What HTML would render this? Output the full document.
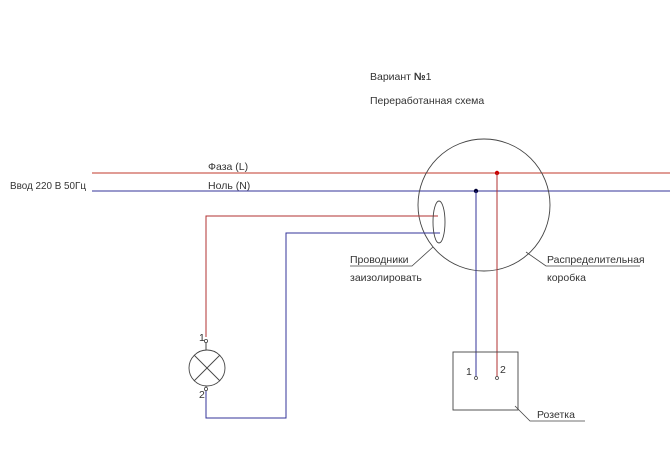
<!DOCTYPE html>
<html><head><meta charset="utf-8"><style>body{margin:0;background:#fff}svg{display:block}text{font-family:"Liberation Sans",sans-serif;font-size:10.5px;fill:#333}</style></head><body>
<svg width="670" height="470" viewBox="0 0 670 470" xmlns="http://www.w3.org/2000/svg">
<rect width="670" height="470" fill="#fff"/>
<text x="370" y="80">Вариант <tspan font-weight="bold">№</tspan>1</text>
<text x="370" y="104">Переработанная схема</text>
<text x="10" y="189" font-size="11" textLength="76" lengthAdjust="spacingAndGlyphs">Ввод 220 В 50Гц</text>
<text x="208" y="170">Фаза (L)</text>
<text x="208" y="189">Ноль (N)</text>
<line x1="92" y1="173" x2="670" y2="173" stroke="#c0392b" stroke-width="1"/>
<line x1="92" y1="191" x2="670" y2="191" stroke="#333399" stroke-width="1"/>
<circle cx="484" cy="205" r="66" fill="none" stroke="#444" stroke-width="0.9"/>
<circle cx="497" cy="173" r="2.2" fill="#c00"/>
<circle cx="476" cy="191" r="2.2" fill="#003"/>
<polyline points="438,216 206,216 206,337" fill="none" stroke="#b03030"/>
<polyline points="440,233 286,233 286,418 206,418 206,391" fill="none" stroke="#333399"/>
<ellipse cx="439" cy="222" rx="6" ry="21" fill="none" stroke="#444" stroke-width="0.9"/>
<line x1="476" y1="191" x2="476" y2="377" stroke="#333399"/>
<line x1="497" y1="173" x2="497" y2="377" stroke="#b03030"/>
<circle cx="476" cy="378" r="1.5" fill="#fff" stroke="#444" stroke-width="0.8"/>
<circle cx="497" cy="378" r="1.5" fill="#fff" stroke="#444" stroke-width="0.8"/>
<rect x="453" y="352" width="65" height="58" fill="none" stroke="#444" stroke-width="0.9"/>
<text x="466" y="375" font-size="9">1</text>
<text x="500" y="373" font-size="9">2</text>
<polyline points="515,406 530,421 585,421" fill="none" stroke="#444" stroke-width="0.8"/>
<text x="537" y="418">Розетка</text>
<circle cx="207" cy="368" r="18" fill="none" stroke="#444" stroke-width="0.9"/>
<line x1="194" y1="355" x2="220" y2="381" stroke="#444" stroke-width="0.9"/>
<line x1="220" y1="355" x2="194" y2="381" stroke="#444" stroke-width="0.9"/>
<line x1="206" y1="343" x2="206" y2="350" stroke="#444"/>
<line x1="206" y1="386" x2="206" y2="391" stroke="#444"/>
<circle cx="206" cy="341" r="1.6" fill="#fff" stroke="#444" stroke-width="0.8"/>
<circle cx="206" cy="389" r="1.6" fill="#fff" stroke="#444" stroke-width="0.8"/>
<text x="199" y="341" font-size="9">1</text>
<text x="199" y="398" font-size="9">2</text>
<polyline points="350,266 412,266 433,247" fill="none" stroke="#444" stroke-width="0.8"/>
<text x="350" y="263">Проводники</text>
<text x="350" y="281">заизолировать</text>
<polyline points="526,252 546,266 640,266" fill="none" stroke="#444" stroke-width="0.8"/>
<text x="547" y="263">Распределительная</text>
<text x="547" y="281">коробка</text>
</svg>
</body></html>
